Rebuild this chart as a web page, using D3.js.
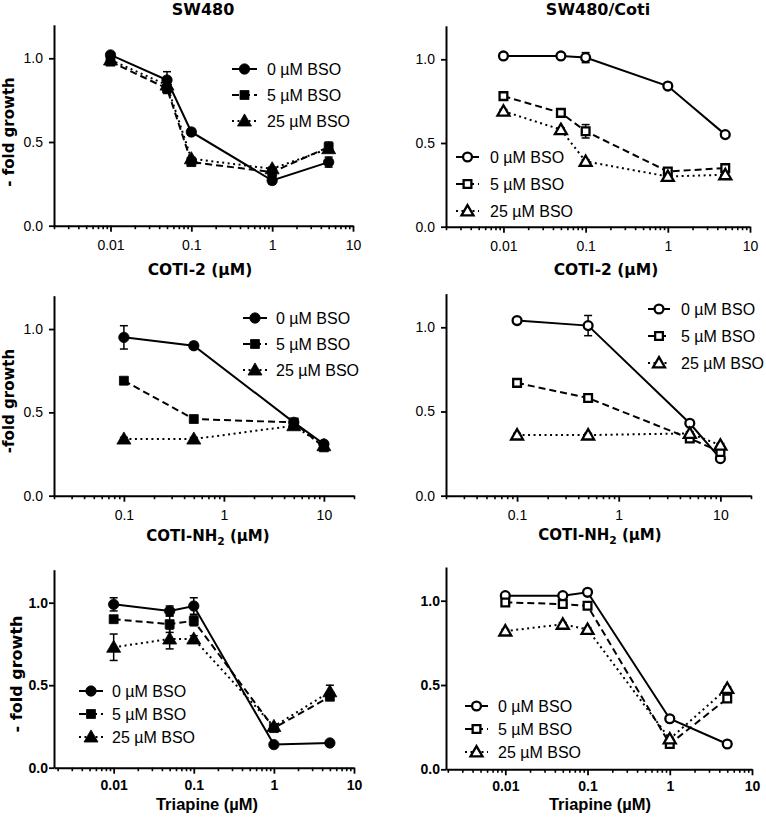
<!DOCTYPE html>
<html><head><meta charset="utf-8">
<script src="https://cdn.jsdelivr.net/npm/d3@7"></script>
<style>body{margin:0;background:#fff}</style>
</head><body>
<svg id="c" width="766" height="819"></svg>
<script>
// ---------- data ----------
const seriesNames = ["0 µM BSO", "5 µM BSO", "25 µM BSO"];
const yTickValues = [0, 0.5, 1.0];
const concCoti2 = [0.01, 0.05, 0.1, 1, 5];
const concCotiNH2 = [0.1, 0.5, 5, 10];
const concTriapine = [0.01, 0.05, 0.1, 1, 5];
const xTicksCoti2 = [0.01, 0.1, 1, 10];
const xTicksNH2 = [0.1, 1, 10];
const xTicksTriapine = [0.01, 0.1, 1, 10];

// SW480, COTI-2
const sw480Coti2_0 = [1.02, 0.87, 0.56, 0.27, 0.38];
const sw480Coti2_5 = [0.98, 0.82, 0.38, 0.32, 0.47];
const sw480Coti2_25 = [0.99, 0.84, 0.40, 0.34, 0.46];
const sw480Coti2_0err = [0.01, 0.05, 0.02, 0.02, 0.03];
const sw480Coti2_5err = [0.01, 0.03, 0.02, 0.02, 0.03];
const sw480Coti2_25err = [0.01, 0.04, 0.01, 0.01, 0.02];
// SW480/Coti, COTI-2
const cotiCoti2_0 = [1.02, 1.02, 1.01, 0.84, 0.55];
const cotiCoti2_5 = [0.78, 0.68, 0.57, 0.33, 0.35];
const cotiCoti2_25 = [0.69, 0.58, 0.39, 0.30, 0.31];
const cotiCoti2_0err = [0.01, 0.01, 0.03, 0.01, 0.01];
const cotiCoti2_5err = [0.01, 0.01, 0.04, 0.02, 0.01];
const cotiCoti2_25err = [0.01, 0.01, 0.01, 0.01, 0.01];
// SW480, COTI-NH2
const sw480NH2_0 = [0.95, 0.90, 0.44, 0.31];
const sw480NH2_5 = [0.69, 0.46, 0.44, 0.29];
const sw480NH2_25 = [0.34, 0.34, 0.42, 0.30];
const sw480NH2_0err = [0.07, 0.02, 0.01, 0.01];
const sw480NH2_5err = [0.01, 0.01, 0.01, 0.01];
const sw480NH2_25err = [0.01, 0.01, 0.01, 0.01];
// SW480/Coti, COTI-NH2
const cotiNH2_0 = [1.04, 1.01, 0.43, 0.22];
const cotiNH2_5 = [0.67, 0.58, 0.34, 0.26];
const cotiNH2_25 = [0.36, 0.36, 0.37, 0.30];
const cotiNH2_0err = [0.01, 0.06, 0.01, 0.01];
const cotiNH2_5err = [0.01, 0.01, 0.01, 0.01];
const cotiNH2_25err = [0.01, 0.01, 0.01, 0.01];
// SW480, Triapine
const sw480Tri_0 = [0.99, 0.95, 0.98, 0.14, 0.15];
const sw480Tri_5 = [0.90, 0.87, 0.89, 0.24, 0.43];
const sw480Tri_25 = [0.73, 0.78, 0.78, 0.25, 0.46];
const sw480Tri_0err = [0.04, 0.03, 0.05, 0.01, 0.01];
const sw480Tri_5err = [0.02, 0.05, 0.03, 0.01, 0.02];
const sw480Tri_25err = [0.08, 0.06, 0.02, 0.01, 0.04];
// SW480/Coti, Triapine
const cotiTri_0 = [1.03, 1.03, 1.05, 0.30, 0.15];
const cotiTri_5 = [0.99, 0.98, 0.97, 0.15, 0.42];
const cotiTri_25 = [0.82, 0.86, 0.83, 0.18, 0.48];
const cotiTri_0err = [0.01, 0.01, 0.01, 0.01, 0.01];
const cotiTri_5err = [0.01, 0.01, 0.01, 0.01, 0.01];
const cotiTri_25err = [0.01, 0.01, 0.01, 0.01, 0.01];

// ---------- layout ----------
const BOLD_WIDE = "'DejaVu Sans', sans-serif";
const ARIAL = "'Liberation Sans', Arial, sans-serif";

const panels = [
  {left:54, right:353, bottom:225.7, top:24.8, xDomain:[0.002,10], conc:concCoti2, xTicks:xTicksCoti2,
   vals:[sw480Coti2_0, sw480Coti2_5, sw480Coti2_25], errs:[sw480Coti2_0err, sw480Coti2_5err, sw480Coti2_25err],
   open:false, title:"SW480", titleX:203, xlabel:["COTI-2 (µM)"], xlabX:200, xlabY:275, xlabFont:BOLD_WIDE, xlabSize:15.5,
   ylabel:"- fold growth", ylabX:14, ylabY:132, ylabSize:15, tickBold:false, xPad:8, yPad:6,
   leg:{x:232, y:69, dy:26, len:25, tx:267}},
  {left:446, right:750, bottom:226.7, top:25.8, xDomain:[0.002,10], conc:concCoti2, xTicks:xTicksCoti2,
   vals:[cotiCoti2_0, cotiCoti2_5, cotiCoti2_25], errs:[cotiCoti2_0err, cotiCoti2_5err, cotiCoti2_25err],
   open:true, title:"SW480/Coti", titleX:598, xlabel:["COTI-2 (µM)"], xlabX:606, xlabY:275, xlabFont:BOLD_WIDE, xlabSize:15.5,
   ylabel:null, tickBold:false, xPad:8, yPad:6,
   leg:{x:456, y:157, dy:27, len:23, tx:490}},
  {left:54, right:354, bottom:495.7, top:295.7, xDomain:[0.02,20], conc:concCotiNH2, xTicks:xTicksNH2,
   vals:[sw480NH2_0, sw480NH2_5, sw480NH2_25], errs:[sw480NH2_0err, sw480NH2_5err, sw480NH2_25err],
   open:false, title:null, xlabel:["COTI-NH","2"," (µM)"], xlabX:208, xlabY:541, xlabFont:BOLD_WIDE, xlabSize:15,
   ylabel:"-fold growth", ylabX:14, ylabY:401, ylabSize:15, tickBold:false, xPad:8, yPad:6,
   leg:{x:243, y:318, dy:26, len:24, tx:276}},
  {left:446, right:751, bottom:495.7, top:293.6, xDomain:[0.02,20], conc:concCotiNH2, xTicks:xTicksNH2,
   vals:[cotiNH2_0, cotiNH2_5, cotiNH2_25], errs:[cotiNH2_0err, cotiNH2_5err, cotiNH2_25err],
   open:true, title:null, xlabel:["COTI-NH","2"," (µM)"], xlabX:600, xlabY:540, xlabFont:BOLD_WIDE, xlabSize:15,
   ylabel:null, tickBold:false, xPad:8, yPad:6,
   leg:{x:648, y:309, dy:27, len:22, tx:681}},
  {left:54, right:354, bottom:767.7, top:569.7, xDomain:[0.0018,10], conc:concTriapine, xTicks:xTicksTriapine,
   vals:[sw480Tri_0, sw480Tri_5, sw480Tri_25], errs:[sw480Tri_0err, sw480Tri_5err, sw480Tri_25err],
   open:false, title:null, xlabel:["Triapine (µM)"], xlabX:207, xlabY:810, xlabFont:ARIAL, xlabSize:16.5,
   ylabel:"- fold growth", ylabX:22, ylabY:674, ylabSize:16, tickBold:true, xPad:6, yPad:1,
   leg:{x:79, y:691, dy:23, len:24, tx:112}},
  {left:446, right:752, bottom:769.3, top:567, xDomain:[0.0019,10], conc:concTriapine, xTicks:xTicksTriapine,
   vals:[cotiTri_0, cotiTri_5, cotiTri_25], errs:[cotiTri_0err, cotiTri_5err, cotiTri_25err],
   open:true, title:null, xlabel:["Triapine (µM)"], xlabX:600, xlabY:810, xlabFont:ARIAL, xlabSize:16.5,
   ylabel:null, tickBold:true, xPad:6, yPad:1,
   leg:{x:465, y:706, dy:23, len:23, tx:498}}
];

const dashes = [null, "7,4", "2,3.5"];
const symbols = [d3.symbolCircle, d3.symbolSquare, d3.symbolTriangle];
const sizesFilled = [85, 80, 85];
const sizesOpen = [62, 60, 62];

const svg = d3.select("#c");

function marker(g, i, open, cx, cy) {
  g.append("path")
    .attr("d", d3.symbol().type(symbols[i]).size(open ? sizesOpen[i] : sizesFilled[i])())
    .attr("transform", `translate(${cx},${cy + (i === 2 ? 1 : 0)})`)
    .attr("fill", open ? "#fff" : "#000")
    .attr("stroke", "#000")
    .attr("stroke-width", open ? 2.3 : 0.8);
}

function drawPanel(p) {
  const x = d3.scaleLog().domain(p.xDomain).range([p.left, p.right]);
  const y = d3.scaleLinear().domain([0, 1.2]).range([p.bottom, p.top]);
  const g = svg.append("g");
  const tickFont = p.tickBold ? "bold" : "normal";

  // minor x ticks
  const minor = x.ticks().filter(v => !p.xTicks.some(t => Math.abs(t - v) / t < 1e-6));
  const gm = g.append("g").attr("transform", `translate(0,${p.bottom})`)
    .call(d3.axisBottom(x).tickValues(minor).tickSize(3.5).tickFormat(""));
  gm.select(".domain").remove();
  gm.selectAll(".tick line").attr("stroke-width", 1.6);

  // major x axis
  const gx = g.append("g").attr("transform", `translate(0,${p.bottom})`)
    .call(d3.axisBottom(x).tickValues(p.xTicks).tickSize(6).tickSizeOuter(0).tickPadding(p.xPad)
      .tickFormat(d3.format("~g")));
  gx.select(".domain").attr("stroke-width", 2);
  gx.selectAll(".tick line").attr("stroke-width", 1.8);
  gx.selectAll("text").attr("font-family", ARIAL).attr("font-size", 14).attr("font-weight", tickFont).attr("fill", "#000");

  // y axis
  const gy = g.append("g").attr("transform", `translate(${p.left},0)`)
    .call(d3.axisLeft(y).tickValues(yTickValues).tickSize(5).tickSizeOuter(0).tickPadding(p.yPad)
      .tickFormat(d3.format(".1f")));
  gy.select(".domain").attr("stroke-width", 2);
  gy.selectAll(".tick line").attr("stroke-width", 1.8);
  gy.selectAll("text").attr("font-family", ARIAL).attr("font-size", 14).attr("font-weight", tickFont).attr("fill", "#000");

  // series
  const line = d3.line().x(d => x(d.c)).y(d => y(d.v));
  p.vals.forEach((vals, i) => {
    const pts = vals.map((v, k) => ({c: p.conc[k], v: v, e: p.errs[i][k]}));
    const sg = g.append("g");
    sg.append("path").datum(pts).attr("d", line).attr("fill", "none")
      .attr("stroke", "#000").attr("stroke-width", 2)
      .attr("stroke-dasharray", dashes[i]);
    pts.forEach(d => {
      const cx = x(d.c), yt = y(d.v + d.e), yb = y(d.v - d.e);
      sg.append("line").attr("x1", cx).attr("x2", cx).attr("y1", yt).attr("y2", yb)
        .attr("stroke", "#000").attr("stroke-width", 1.5);
      [yt, yb].forEach(yy => sg.append("line").attr("x1", cx - 4).attr("x2", cx + 4)
        .attr("y1", yy).attr("y2", yy).attr("stroke", "#000").attr("stroke-width", 1.5));
    });
    pts.forEach(d => marker(sg, i, p.open, x(d.c), y(d.v)));
  });

  // legend
  const L = p.leg;
  seriesNames.forEach((name, i) => {
    const ly = L.y + i * L.dy;
    g.append("line").attr("x1", L.x).attr("x2", L.x + L.len).attr("y1", ly).attr("y2", ly)
      .attr("stroke", "#000").attr("stroke-width", 2).attr("stroke-dasharray", dashes[i]);
    marker(g, i, p.open, L.x + L.len / 2, ly);
    g.append("text").attr("x", L.tx).attr("y", ly + 5.8)
      .attr("font-family", ARIAL).attr("font-size", 16).attr("fill", "#000").text(name);
  });

  // title
  if (p.title) {
    g.append("text").attr("x", p.titleX).attr("y", 15).attr("text-anchor", "middle")
      .attr("font-family", BOLD_WIDE).attr("font-weight", "bold").attr("font-size", 16).text(p.title);
  }
  // x label
  const xl = g.append("text").attr("x", p.xlabX).attr("y", p.xlabY).attr("text-anchor", "middle")
    .attr("font-family", p.xlabFont).attr("font-weight", "bold").attr("font-size", p.xlabSize);
  if (p.xlabel.length === 1) {
    xl.text(p.xlabel[0]);
  } else {
    xl.append("tspan").text(p.xlabel[0]);
    xl.append("tspan").attr("dy", 4).attr("font-size", p.xlabSize * 0.72).text(p.xlabel[1]);
    xl.append("tspan").attr("dy", -4).text(p.xlabel[2]);
  }
  // y label
  if (p.ylabel) {
    g.append("text").attr("transform", `translate(${p.ylabX},${p.ylabY}) rotate(-90)`)
      .attr("text-anchor", "middle").attr("font-family", BOLD_WIDE).attr("font-weight", "bold")
      .attr("font-size", p.ylabSize).text(p.ylabel);
  }
}

panels.forEach(drawPanel);
</script>
</body></html>
